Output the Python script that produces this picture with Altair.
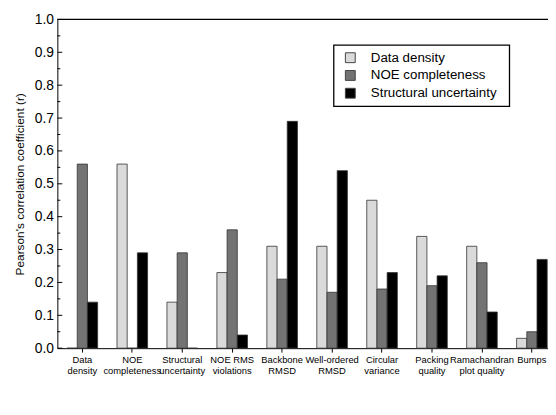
import altair as alt
import pandas as pd

categories = [
    "Data\ndensity", "NOE\ncompleteness", "Structural\nuncertainty",
    "NOE RMS\nviolations", "Backbone\nRMSD", "Well-ordered\nRMSD",
    "Circular\nvariance", "Packing\nquality", "Ramachandran\nplot quality", "Bumps",
]
series = ["Data density", "NOE completeness", "Structural uncertainty"]
data_density = [0.0, 0.56, 0.14, 0.23, 0.31, 0.31, 0.45, 0.34, 0.31, 0.03]
noe_completeness = [0.56, 0.0, 0.29, 0.36, 0.21, 0.17, 0.18, 0.19, 0.26, 0.05]
structural_uncertainty = [0.14, 0.29, 0.0, 0.04, 0.69, 0.54, 0.23, 0.22, 0.11, 0.27]
colors = ["#dadada", "#737373", "#000000"]
major_ticks = [round(i * 0.1, 1) for i in range(11)]
minor_ticks = [round(0.05 + i * 0.1, 2) for i in range(10)]

rows = []
for s, vals in zip(series, [data_density, noe_completeness, structural_uncertainty]):
    for c, v in zip(categories, vals):
        rows.append({"category": c, "series": s, "value": v})
df = pd.DataFrame(rows)

W, H = 497, 333
FONT = "Liberation Sans"

xscale = alt.Scale(domain=categories, range=[0, 506], paddingInner=0, paddingOuter=0)
y_enc = alt.Y("value:Q", scale=alt.Scale(domain=[0, 1], nice=False),
              title="Pearson's correlation coefficient (r)",
              axis=alt.Axis(values=major_ticks, format=".1f"))

bars = alt.Chart(df).mark_bar(clip=True, stroke="#333333", strokeWidth=0.8).encode(
    x=alt.X("category:N", sort=categories, title=None, scale=xscale,
            axis=alt.Axis(labelExpr="split(datum.label, '\\n')", labelAngle=0)),
    xOffset=alt.XOffset("series:N", sort=series,
                        scale=alt.Scale(paddingInner=0, paddingOuter=0.95)),
    y=y_enc,
    color=alt.Color("series:N", sort=series,
                    scale=alt.Scale(domain=series, range=colors),
                    legend=alt.Legend(title=None, orient="none", legendX=280, legendY=26)),
)

major = alt.Chart(pd.DataFrame({"value": major_ticks})).mark_rule(color="#000", strokeWidth=1).encode(
    y=y_enc, x=alt.value(0), x2=alt.value(5)
)
minor = alt.Chart(pd.DataFrame({"value": minor_ticks})).mark_rule(color="#000", strokeWidth=1).encode(
    y=y_enc, x=alt.value(0), x2=alt.value(3)
)
top = alt.Chart(pd.DataFrame({"value": [1.0]})).mark_rule(color="#000", strokeWidth=1.2).encode(
    y=y_enc, x=alt.value(0), x2=alt.value(W)
)
legend_box = alt.Chart(pd.DataFrame({"value": [1.0]})).mark_rect(
    fill="#ffffff", stroke="#000", strokeWidth=1.3
).encode(
    x=alt.value(280), x2=alt.value(458), y=alt.value(26), y2=alt.value(88)
)

chart = alt.layer(bars, major, minor, top, legend_box).properties(
    width=W, height=H,
    autosize=alt.AutoSizeParams(type="none"),
    padding={"left": 50, "top": 9, "right": 0, "bottom": 57},
).configure_view(
    stroke=None
).configure_axis(
    grid=False, domainColor="#000", labelColor="#000", labelFont=FONT,
    titleFont=FONT, titleColor="#000", titleFontWeight="normal", tickColor="#000",
).configure_axisX(
    tickSize=4, labelFontSize=9.5, labelPadding=3, labelLineHeight=10.5,
    labelOverlap=False, labelBound=False, labelLimit=0,
).configure_axisY(
    ticks=False, labelFontSize=14, labelPadding=4, labelOverlap=False,
    titleFontSize=12, titlePadding=8,
).configure_legend(
    padding=6,
    symbolType="square", symbolSize=100,
    symbolStrokeColor="#444", symbolStrokeWidth=1,
    symbolOffset=4, labelOffset=14,
    labelFontSize=13.5, labelFont=FONT, labelColor="#000", rowPadding=3,
)

chart.save("out.html", embed_options={"renderer": "svg", "actions": False})
